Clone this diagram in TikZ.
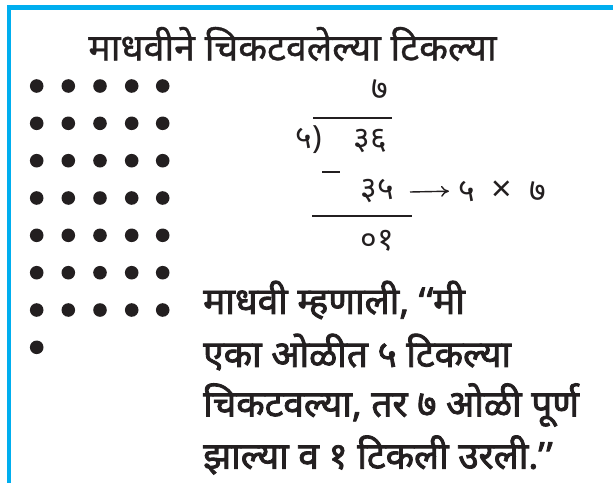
\documentclass[tikz,border=0pt]{standalone}
\usepackage{fontspec}
\usetikzlibrary{arrows.meta}
\newfontfamily\deva[Script=Devanagari]{Noto Sans}
\newfontfamily\devatitle[Script=Devanagari,FakeBold=1]{Noto Sans}
\newfontfamily\devabold[Script=Devanagari,FakeBold=2.2]{Noto Sans}
\definecolor{frameblue}{HTML}{00AEEF}
\definecolor{ink}{HTML}{231F20}
\begin{document}
\begin{tikzpicture}[x=1pt,y=-1pt,
  dotnode/.style={circle,fill=ink,minimum size=13.6pt,inner sep=0pt},
  titletext/.style={font=\devatitle\fontsize{37.5}{40}\selectfont,text=ink,inner sep=0pt},
  bodytext/.style={font=\devabold\fontsize{37}{40}\selectfont,text=ink,inner sep=0pt,anchor=west},
  divtext/.style={font=\deva\fontsize{32}{34}\selectfont,text=ink,inner sep=0pt},
  rule/.style={ink,line width=2pt}]
\useasboundingbox (0,0) rectangle (613,483);
\fill[frameblue] (7,5) rectangle (613,10);
\fill[frameblue] (7,5) rectangle (11,483);
\node[titletext] (title) at (292.5,44) {माधवीने चिकटवलेल्या टिकल्या};
\foreach \r/\yy in {1/86,2/123.3,3/160.7,4/198,5/235.3,6/272.7,7/310}{
  \foreach \c/\xx in {1/36.7,2/68.3,3/100,4/131.7,5/162.7}{
    \node[dotnode] (d\r\c) at (\xx,\yy) {};
  }
}
\node[dotnode] (d81) at (36.7,347.3) {};
% division
\node[divtext] (q) at (380,90) {७};
\coordinate (barL) at (313,118);
\coordinate (barR) at (392,118);
\draw[rule] (barL) -- (barR);
\node[divtext,anchor=east] (div) at (322,140) {५)};
\node[divtext] (dividend) at (370,141) {३६};
\coordinate (mL) at (322,172);
\coordinate (mR) at (340,172);
\draw[ink,line width=2.5pt] (mL) -- (mR);
\node[divtext] (sub) at (377,191) {३५};
\node[divtext,anchor=west] (prod) at (458,191) {५\hspace{17pt}{\fontsize{36}{36}\selectfont ×}\hspace{17pt}७};
\coordinate (arS) at (410,192);
\draw[ink,line width=1.4pt,shorten >=9pt,-{To[length=8pt,width=11pt]}] (arS) -- (prod.west);
\coordinate (lineL) at (312,216);
\coordinate (lineR) at (412,216);
\draw[rule] (lineL) -- (lineR);
\node[divtext] (rem) at (377,241) {०१};
% body
\node[bodytext] (l1) at (203,300) {माधवी म्हणाली, ‘\hspace{1.5pt}‘मी};
\node[bodytext] (l2) at (203,352) {एका ओळीत ५ टिकल्या};
\node[bodytext] (l3) at (203,405) {चिकटवल्या, तर ७ ओळी पूर्ण};
\node[bodytext] (l4) at (203,455) {झाल्या व १ टिकली उरली.’\hspace{1.5pt}’};
\end{tikzpicture}
\end{document}
